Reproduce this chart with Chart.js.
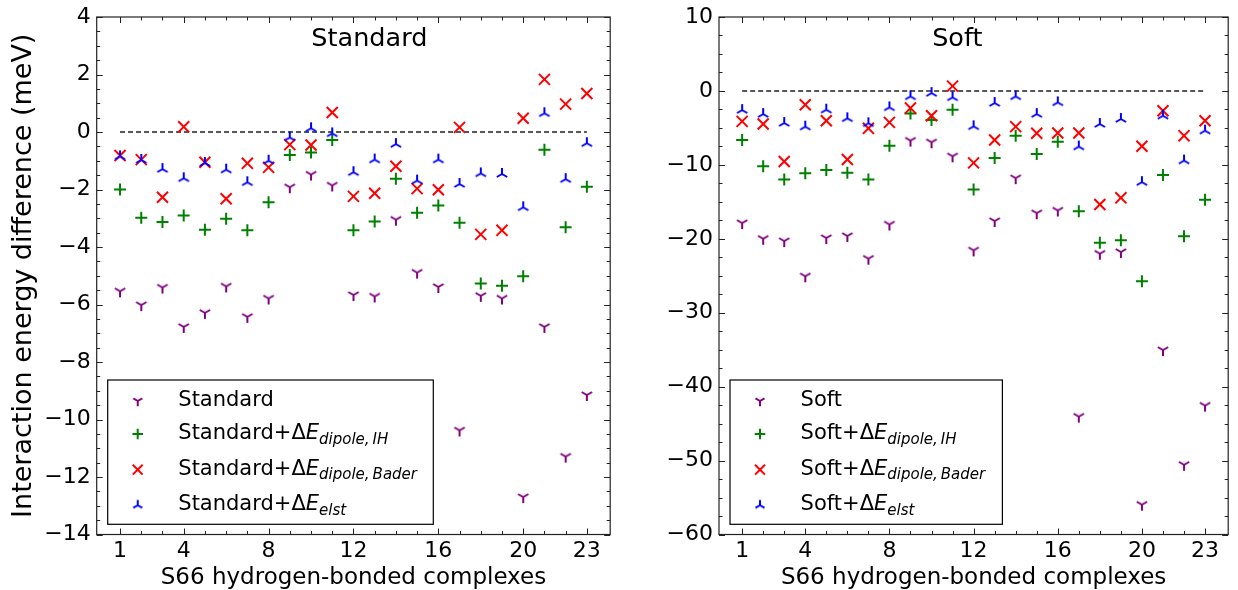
<!DOCTYPE html>
<html>
<head>
<meta charset="utf-8">
<script src="https://cdn.jsdelivr.net/npm/chart.js@4.4.1/dist/chart.umd.min.js"></script>
<style>
  body { margin: 0; background: #fff; }
  .panel { position: absolute; top: 0; }
  #left { left: 0; }
  #right { left: 618px; }
</style>
</head>
<body>
<div class="panel" id="left"><canvas id="std" width="620" height="590"></canvas></div>
<div class="panel" id="right"><canvas id="soft" width="620" height="590"></canvas></div>
<script>
// S66 hydrogen-bonded complexes, index 1..23
const complexes = [1, 2, 3, 4, 5, 6, 7, 8, 9, 10, 11, 12, 13, 14, 15, 16, 17, 18, 19, 20, 21, 22, 23];
const xTickLabels = [1, 4, 8, 12, 16, 20, 23];

// Standard pseudopotentials (meV)
const standard      = [-5.54, -6.02, -5.41, -6.78, -6.29, -5.37, -6.43, -5.79, -1.92, -1.48, -1.86, -5.67, -5.72, -3.05, -4.89, -5.39, -10.38, -5.70, -5.79, -12.70, -6.78, -11.29, -9.15];
const standardIH    = [-2.00, -2.98, -3.13, -2.90, -3.40, -3.02, -3.42, -2.44, -0.80, -0.71, -0.28, -3.42, -3.11, -1.63, -2.81, -2.56, -3.16, -5.27, -5.35, -5.02, -0.62, -3.31, -1.90];
const standardBader = [-0.82, -0.96, -2.27, 0.18, -1.05, -2.32, -1.09, -1.23, -0.44, -0.45, 0.68, -2.24, -2.13, -1.19, -1.97, -2.01, 0.16, -3.56, -3.42, 0.48, 1.83, 0.97, 1.34];
const standardElst  = [-0.85, -0.97, -1.29, -1.61, -1.08, -1.31, -1.75, -1.00, -0.19, 0.13, -0.05, -1.40, -0.96, -0.42, -1.69, -0.96, -1.81, -1.44, -1.46, -2.62, 0.65, -1.64, -0.39];

// Soft pseudopotentials (meV)
const soft      = [-17.88, -19.99, -20.31, -25.07, -19.90, -19.63, -22.69, -18.06, -6.72, -6.95, -8.84, -21.56, -17.60, -11.80, -16.53, -16.17, -44.05, -22.01, -21.79, -55.96, -35.06, -50.57, -42.56];
const softIH    = [-6.63, -10.18, -11.98, -11.13, -10.68, -11.08, -11.98, -7.40, -3.04, -3.93, -2.54, -13.32, -9.06, -6.05, -8.53, -6.86, -16.26, -20.53, -20.21, -25.74, -11.36, -19.67, -14.73];
const softBader = [-4.12, -4.48, -9.55, -1.87, -4.03, -9.28, -5.06, -4.25, -2.32, -3.35, 0.65, -9.73, -6.63, -4.83, -5.73, -5.69, -5.69, -15.36, -14.46, -7.49, -2.68, -6.05, -4.03];
const softElst  = [-2.59, -3.13, -4.34, -4.83, -2.54, -3.71, -4.38, -2.23, -0.74, -0.29, -0.88, -4.79, -1.64, -0.74, -3.13, -1.55, -7.53, -4.48, -3.80, -12.34, -3.35, -9.42, -5.37];

Chart.defaults.font.family = 'DejaVu Sans';
Chart.defaults.color = '#000';

const FONT = '"DejaVu Sans"';
const fmt = v => (v < 0 ? '\u2212' + Math.abs(v) : String(v));

// matplotlib-like tri markers ('1' = tri_down, '2' = tri_up)
function triMarker(color, down, s) {
  const size = Math.ceil(2 * s + 4) & ~1;
  const c = document.createElement('canvas');
  c.width = c.height = size;
  const g = c.getContext('2d');
  const m = size / 2, d = down ? 1 : -1;
  g.strokeStyle = color;
  g.lineWidth = 2;
  g.beginPath();
  g.moveTo(m, m); g.lineTo(m, m + d * s);
  g.moveTo(m, m); g.lineTo(m - 0.866 * s, m - d * 0.5 * s);
  g.moveTo(m, m); g.lineTo(m + 0.866 * s, m - d * 0.5 * s);
  g.stroke();
  return c;
}

const triDown = triMarker('#800080', true, 6);
const triUp = triMarker('#0000ff', false, 6);
const triDownSmall = triMarker('#800080', true, 5.2);
const triUpSmall = triMarker('#0000ff', false, 5.2);

const pts = arr => complexes.map((x, i) => ({ x: x, y: arr[i] }));

function makeDatasets(base, ih, bader, elst) {
  return [
    { data: pts(base), pointStyle: triDown, order: 4 },
    { data: pts(ih), pointStyle: 'cross', pointRadius: 6, borderColor: '#008000', backgroundColor: '#008000', borderWidth: 2, order: 3 },
    { data: pts(bader), pointStyle: 'crossRot', pointRadius: 7.8, borderColor: '#ff0000', backgroundColor: '#ff0000', borderWidth: 2, order: 2 },
    { data: pts(elst), pointStyle: triUp, order: 1 },
    {
      type: 'line', data: [{ x: 1, y: 0 }, { x: 23, y: 0 }],
      borderColor: '#222', borderWidth: 1.4, borderDash: [5, 3], pointRadius: 0, order: 10
    }
  ];
}

// frame and inward major/minor ticks on all four sides
function makeFrame(yMinor, perMajor) {
  return {
    id: 'frameTicks',
    afterDatasetsDraw(chart) {
      const { ctx, chartArea: a, scales: { x, y } } = chart;
      ctx.save();
      ctx.strokeStyle = '#222';
      ctx.lineWidth = 1;
      ctx.beginPath();
      for (const v of complexes) {
        const len = xTickLabels.includes(v) ? 6 : 3.5;
        const px = Math.round(x.getPixelForValue(v)) + 0.5;
        ctx.moveTo(px, a.bottom); ctx.lineTo(px, a.bottom - len);
        ctx.moveTo(px, a.top); ctx.lineTo(px, a.top + len);
      }
      const n = Math.round((y.max - y.min) / yMinor);
      for (let i = 0; i <= n; i++) {
        const len = i % perMajor === 0 ? 6 : 3.5;
        const py = Math.round(y.getPixelForValue(y.min + i * yMinor)) + 0.5;
        ctx.moveTo(a.left, py); ctx.lineTo(a.left + len, py);
        ctx.moveTo(a.right, py); ctx.lineTo(a.right - len, py);
      }
      ctx.stroke();
      ctx.lineWidth = 1.2;
      ctx.strokeRect(a.left, a.top, a.right - a.left, a.bottom - a.top);
      ctx.restore();
    }
  };
}

function makeTitle(text, fx) {
  return {
    id: 'panelTitle',
    afterDatasetsDraw(chart) {
      const { ctx, chartArea: a } = chart;
      ctx.save();
      ctx.font = '25.5px ' + FONT;
      ctx.fillStyle = '#000';
      ctx.textAlign = 'center';
      ctx.textBaseline = 'alphabetic';
      ctx.fillText(text, a.left + fx * (a.right - a.left), 45.7);
      ctx.restore();
    }
  };
}

function drawRich(ctx, x, y, parts) {
  ctx.textBaseline = 'alphabetic';
  ctx.textAlign = 'left';
  ctx.fillStyle = '#000';
  for (const p of parts) {
    ctx.font = p.font;
    ctx.fillText(p.text, x, y + (p.dy || 0));
    x += ctx.measureText(p.text).width;
  }
}

function labelParts(name, sub) {
  const parts = [{ text: name, font: '21px ' + FONT }];
  if (sub) {
    parts[0].text += '+';
    parts.push({ text: '\u0394', font: '21px ' + FONT });
    parts.push({ text: 'E', font: 'italic 21px ' + FONT });
    parts.push({ text: sub, font: 'italic 15px ' + FONT, dy: 4.5 });
  }
  return parts;
}

function makeLegend(name, boxW) {
  const rowBase = [26, 59, 94.7, 130.2];
  const subs = [null, 'dipole,\u2009IH', 'dipole,\u2009Bader', 'elst'];
  return {
    id: 'legendBox',
    afterDraw(chart) {
      const { ctx, chartArea: a } = chart;
      const h = 144.3;
      const bx = a.left + 11, by = a.bottom - 10.2 - h;
      ctx.save();
      ctx.fillStyle = '#fff';
      ctx.fillRect(bx, by, boxW, h);
      ctx.strokeStyle = '#000';
      ctx.lineWidth = 1.2;
      ctx.strokeRect(bx, by, boxW, h);
      rowBase.forEach((rb, i) => {
        const base = by + rb;
        const mx = bx + 30, my = base - 5;
        if (i === 0 || i === 3) {
          const img = i === 0 ? triDownSmall : triUpSmall;
          ctx.drawImage(img, mx - img.width / 2, my - img.height / 2);
        } else {
          const col = i === 1 ? '#008000' : '#ff0000';
          ctx.strokeStyle = col;
          ctx.fillStyle = col;
          ctx.lineWidth = 2;
          Chart.helpers.drawPoint(ctx, {
            pointStyle: i === 1 ? 'cross' : 'crossRot',
            radius: i === 1 ? 5.3 : 7, borderWidth: 2, rotation: 0
          }, mx, my);
        }
        drawRich(ctx, bx + 70.6, base, labelParts(name, subs[i]));
      });
      ctx.restore();
    }
  };
}

function makeScales(yMin, yMax, yStep, yWidth, yTitle) {
  return {
    x: {
      type: 'linear', min: -0.1, max: 24.1,
      grid: { display: false, drawTicks: false }, border: { display: false },
      afterBuildTicks: s => { s.ticks = xTickLabels.map(v => ({ value: v })); },
      afterFit: s => { s.height = 55.5; },
      ticks: { font: { size: 22, lineHeight: 1 }, color: '#000', padding: 6, maxRotation: 0, autoSkip: false },
      title: {
        display: true, text: 'S66 hydrogen-bonded complexes', color: '#000',
        font: { size: 23, lineHeight: 1 }, padding: { top: 0, bottom: 0.5 }
      }
    },
    y: {
      type: 'linear', min: yMin, max: yMax,
      grid: { display: false, drawTicks: false }, border: { display: false },
      afterFit: s => { s.width = yWidth; },
      ticks: { stepSize: yStep, font: { size: 22, lineHeight: 1 }, color: '#000', padding: 6, callback: v => fmt(v) },
      title: {
        display: !!yTitle, text: yTitle || '', color: '#000',
        font: { size: 27, lineHeight: 1 }, padding: { top: 10, bottom: 0 }
      }
    }
  };
}

function makeChart(id, datasets, scales, padRight, plugins) {
  return new Chart(document.getElementById(id), {
    type: 'scatter',
    data: { datasets: datasets },
    options: {
      responsive: false,
      animation: false,
      events: [],
      layout: { padding: { top: 16, right: padRight, left: 0, bottom: 0 } },
      plugins: { legend: { display: false }, tooltip: { enabled: false } },
      scales: scales
    },
    plugins: plugins
  });
}

// Standard panel
makeChart('std',
  makeDatasets(standard, standardIH, standardBader, standardElst),
  makeScales(-14, 4, 2, 96.7, 'Interaction energy difference (meV)'),
  5.7,
  [makeFrame(0.5, 4), makeTitle('Standard', 0.531), makeLegend('Standard', 325.6)]);

// Soft panel
makeChart('soft',
  makeDatasets(soft, softIH, softBader, softElst),
  makeScales(-60, 10, 10, 101, null),
  0.8,
  [makeFrame(2.5, 4), makeTitle('Soft', 0.468), makeLegend('Soft', 272.4)]);
</script>
</body>
</html>
